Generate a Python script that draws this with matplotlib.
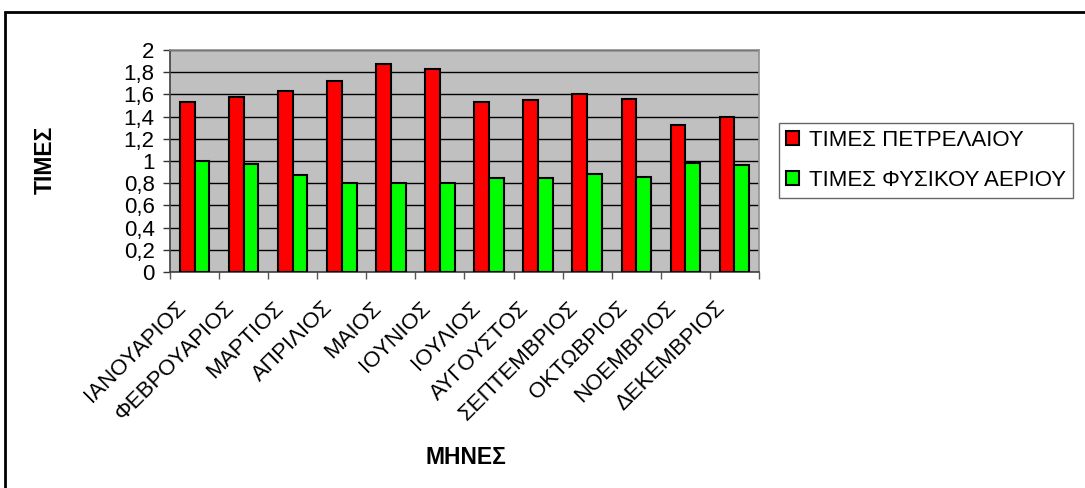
import numpy as np
import matplotlib.pyplot as plt
from matplotlib.patches import Rectangle
from matplotlib.ticker import FuncFormatter, FixedLocator
import matplotlib.transforms as mtransforms

plt.rcParams["font.family"] = ["Liberation Sans", "DejaVu Sans"]

months = ["ΙΑΝΟΥΑΡΙΟΣ", "ΦΕΒΡΟΥΑΡΙΟΣ", "ΜΑΡΤΙΟΣ", "ΑΠΡΙΛΙΟΣ", "ΜΑΙΟΣ", "ΙΟΥΝΙΟΣ",
          "ΙΟΥΛΙΟΣ", "ΑΥΓΟΥΣΤΟΣ", "ΣΕΠΤΕΜΒΡΙΟΣ", "ΟΚΤΩΒΡΙΟΣ", "ΝΟΕΜΒΡΙΟΣ", "ΔΕΚΕΜΒΡΙΟΣ"]
oil = [1.53, 1.58, 1.63, 1.72, 1.87, 1.83, 1.53, 1.55, 1.60, 1.56, 1.32, 1.40]
gas = [1.00, 0.97, 0.87, 0.80, 0.80, 0.80, 0.85, 0.85, 0.88, 0.86, 0.98, 0.96]
y_ticks = [0, 0.2, 0.4, 0.6, 0.8, 1.0, 1.2, 1.4, 1.6, 1.8, 2.0]

FS = 16

fig = plt.figure(figsize=(10.85, 4.88), dpi=100)
ax = fig.add_axes([0.1567, 0.4426, 0.5428, 0.4549])
ax.set_facecolor("#C0C0C0")

x = np.arange(len(months))
w = 0.3
ax.bar(x - w / 2, oil, w, color="#FF0000", edgecolor="black", linewidth=1.5,
       label="ΤΙΜΕΣ ΠΕΤΡΕΛΑΙΟΥ", zorder=3)
ax.bar(x + w / 2, gas, w, color="#00FF00", edgecolor="black", linewidth=1.5,
       label="ΤΙΜΕΣ ΦΥΣΙΚΟΥ ΑΕΡΙΟΥ", zorder=3)

ax.set_xlim(-0.5, len(months) - 0.5)
ax.set_ylim(0, 2)
ax.yaxis.set_major_locator(FixedLocator(y_ticks))
ax.yaxis.set_major_formatter(FuncFormatter(lambda v, p: f"{v:g}".replace(".", ",")))
ax.yaxis.grid(True, color="black", linewidth=1, zorder=1)
ax.set_axisbelow(True)

# ticks sit between categories, month names are placed below each group
ax.xaxis.set_major_locator(FixedLocator(np.arange(len(months) + 1) - 0.5))
ax.set_xticklabels([])
ax.tick_params(axis="x", length=5, width=1, color="#555555", direction="out")
ax.tick_params(axis="y", length=5, width=1, color="#333333", labelsize=FS, pad=6)

for side in ("left", "bottom"):
    ax.spines[side].set_color("#404040")
    ax.spines[side].set_linewidth(1.2)
for side in ("top", "right"):
    ax.spines[side].set_color("#909090")
    ax.spines[side].set_linewidth(1.2)

trans = mtransforms.blended_transform_factory(ax.transData, ax.transAxes)
for xi, name in zip(x, months):
    ax.text(xi - 0.4, -0.115, name, transform=trans, rotation=45,
            rotation_mode="anchor", ha="right", va="top", fontsize=FS)

fig.text(0.0415, 0.672, "ΤΙΜΕΣ", rotation=90, ha="center", va="center",
         fontsize=16.5, fontweight="bold")
fig.text(0.4295, 0.0615, "ΜΗΝΕΣ", ha="center", va="center",
         fontsize=16.5, fontweight="bold")

leg = fig.legend(loc="center left", bbox_to_anchor=(0.718, 0.594, 0.282, 0.154),
                 fontsize=FS, frameon=True, fancybox=False, edgecolor="#404040",
                 handlelength=0.6, handleheight=0.6, handletextpad=0.45,
                 labelspacing=0.85, borderpad=0.3, borderaxespad=0.0)
leg.get_frame().set_linewidth(1.0)

fig.patches.append(Rectangle((5 / 1085, -0.1), 1.2, (488 - 12) / 488 + 0.1,
                             transform=fig.transFigure, fill=False,
                             edgecolor="black", linewidth=2))

fig.savefig("out.png", dpi=100)
